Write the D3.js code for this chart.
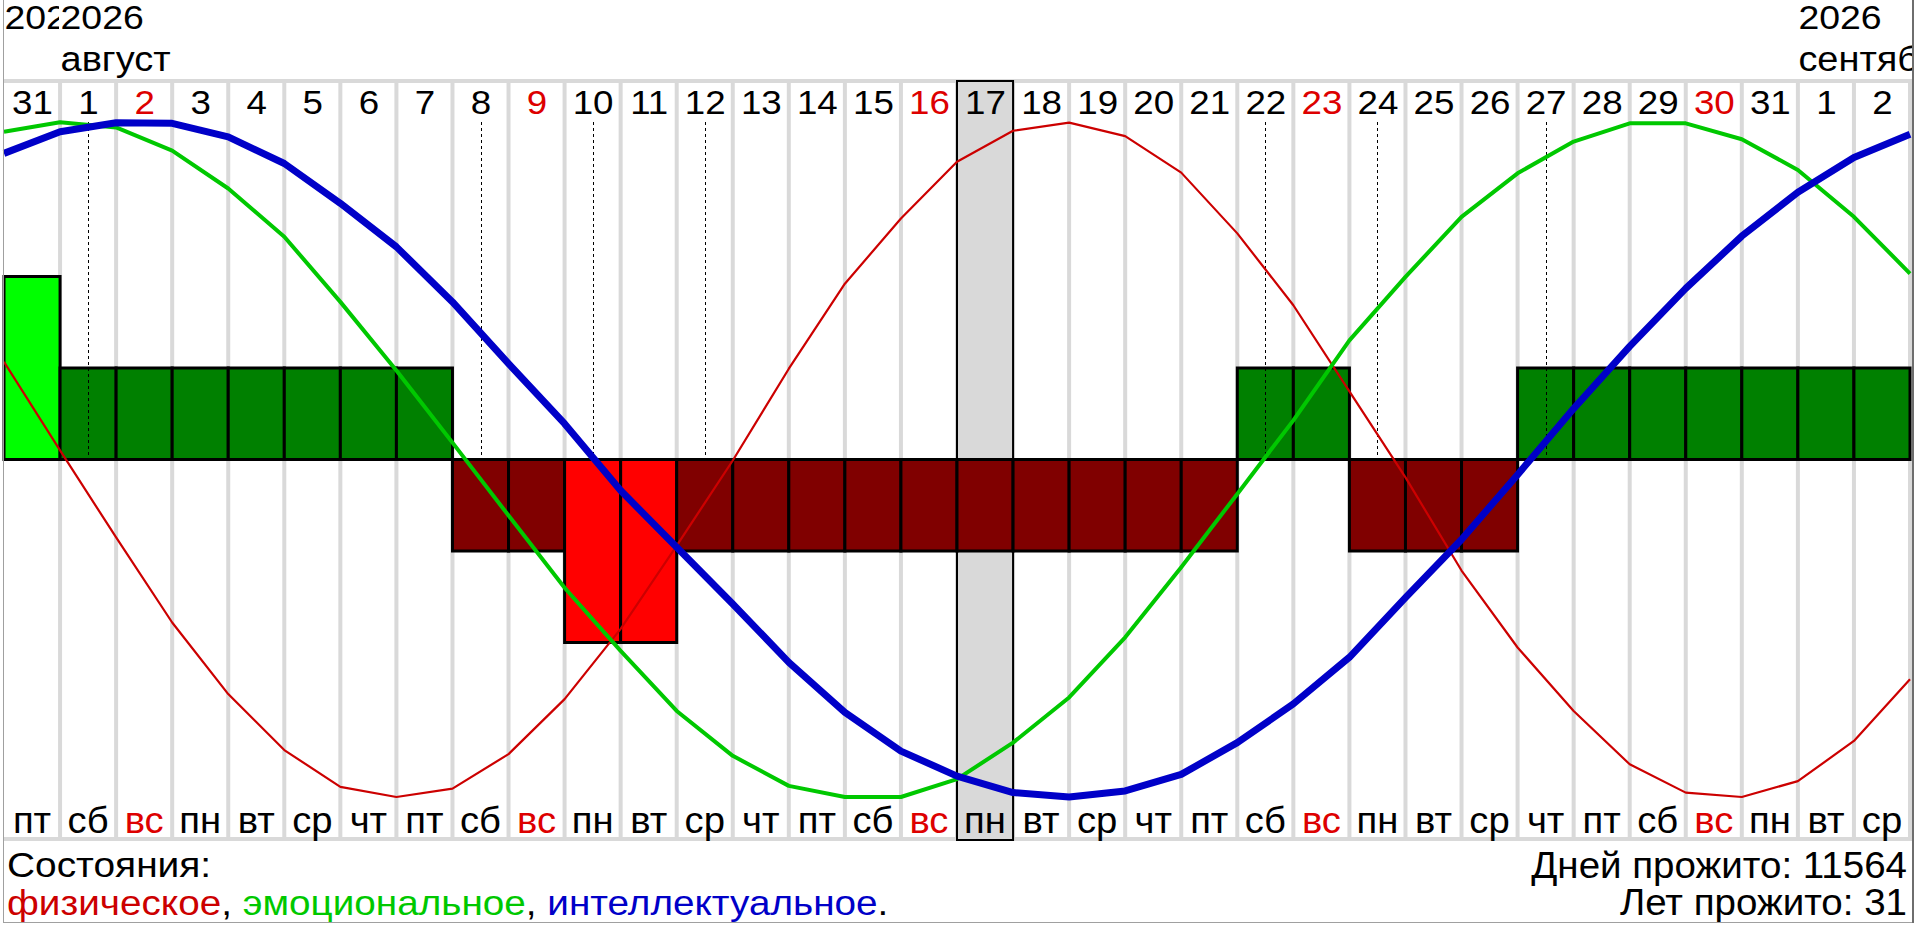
<!DOCTYPE html>
<html><head><meta charset="utf-8">
<script src="https://cdn.jsdelivr.net/npm/d3@7/dist/d3.min.js"></script>
<style>html,body{margin:0;padding:0;background:#fff;overflow:hidden}svg{display:block}</style>
</head><body><svg id="c" width="1920" height="926"></svg>
<script>
// ---- data ----
const days = [31,1,2,3,4,5,6,7,8,9,10,11,12,13,14,15,16,17,18,19,20,21,22,23,24,25,26,27,28,29,30,31,1,2];
const weekdays = ["пт","сб","вс","пн","вт","ср","чт","пт","сб","вс","пн","вт","ср","чт","пт","сб","вс","пн","вт","ср","чт","пт","сб","вс","пн","вт","ср","чт","пт","сб","вс","пн","вт","ср"];
// curve values (percent) at the day boundaries, 35 points
const physical = [28.9,2.7,-23.1,-48.3,-69.5,-86.1,-97.0,-100,-97.5,-87.3,-71.0,-50.2,-25.5,-0.3,26.9,52.1,71.4,88.2,97.4,99.8,95.8,85.0,67.0,45.7,20.2,-5.3,-32.9,-55.7,-74.5,-90.3,-98.7,-100,-95.3,-83.4,-65.1];
const emotional = [97.1,99.9,98.4,91.5,80.3,66.0,46.7,26.4,5.0,-16.6,-38.0,-56.7,-74.5,-87.8,-96.7,-100,-100,-94.7,-83.9,-70.5,-52.7,-31.9,-10.2,11.6,35.3,54.1,71.9,84.8,94.2,99.6,99.6,94.9,85.8,71.9,55.1];
const intellectual = [90.7,97.1,99.8,99.6,95.6,87.7,75.9,63.0,46.7,28.4,10.6,-9.2,-26.0,-42.8,-60.1,-74.9,-86.4,-93.8,-98.7,-100,-98.2,-93.3,-83.9,-72.4,-58.6,-40.9,-23.7,-4.5,15.1,33.5,50.7,66.2,79.2,89.5,96.4];
// daily state bars
const barLevels = [2,1,1,1,1,1,1,1,-1,-1,-2,-2,-1,-1,-1,-1,-1,-1,-1,-1,-1,-1,1,1,-1,-1,-1,1,1,1,1,1,1,1];
const criticalCols = [1,8,10,12,22,24,27];
const todayCol = 17;
const monthCols = [0,1,32];
const monthYears = ["2026","2026","2026"];
const monthNames = ["","август","сентябрь"];
const daysLived = 11564, yearsLived = 31;

// ---- layout ----
const svg = d3.select("#c");
const FONT = "'Liberation Sans', Arial, sans-serif";
const nCols = days.length;
const x = d3.scaleLinear().domain([0, nCols]).range([4, 1910]);
const y = d3.scaleLinear().domain([-100, 100]).range([797, 122]);
const yBar = d3.scaleLinear().domain([-2, 2]).range([642.5, 276.5]);
const TOP = 81, BOT = 839;
const GRID = "#d9d9d9";
const RED_TXT = "#dd0000";

function stext(g, px, py, str, fs, sx, anchor, color) {
  return g.append("text")
    .attr("transform", `translate(${px},${py}) scale(${sx},1)`)
    .attr("font-family", FONT).attr("font-size", fs)
    .attr("text-anchor", anchor).attr("fill", color).text(str);
}

svg.append("rect").attr("width",1920).attr("height",926).attr("fill","#fff");

// grid
const grid = svg.append("g");
grid.selectAll("line.v").data(d3.range(1, nCols + 1)).join("line")
  .attr("x1", d => x(d)).attr("x2", d => x(d))
  .attr("y1", TOP - 2).attr("y2", BOT + 2)
  .attr("stroke", GRID).attr("stroke-width", 4);
[TOP, BOT].forEach(yy => grid.append("line")
  .attr("x1", 4).attr("x2", 1912).attr("y1", yy).attr("y2", yy)
  .attr("stroke", GRID).attr("stroke-width", 4));

// today highlight
svg.append("rect")
  .attr("x", x(todayCol)).attr("width", x(todayCol + 1) - x(todayCol))
  .attr("y", TOP).attr("height", BOT + 1 - TOP)
  .attr("fill", GRID).attr("stroke", "#000").attr("stroke-width", 2);

// month / year labels
const defs = svg.append("defs");
monthCols.forEach((c, i) => {
  const x0 = x(c);
  const x1 = i < monthCols.length - 1 ? x(monthCols[i + 1]) - 1 : 1912;
  defs.append("clipPath").attr("id", "mclip" + i).append("rect")
    .attr("x", x0 - 2).attr("y", 0).attr("width", x1 - x0 + 2).attr("height", 80);
  const g = svg.append("g").attr("clip-path", `url(#mclip${i})`);
  stext(g, x0 + 0.5, 29, monthYears[i], 34, 1.1, "start", "#000");
  if (monthNames[i]) stext(g, x0 + 0.5, 70.5, monthNames[i], 34.5, 1.1, "start", "#000");
});

// day numbers and weekdays
const cx = i => (x(i) + x(i + 1)) / 2;
const lab = svg.append("g");
days.forEach((d, i) => {
  const col = weekdays[i] === "вс" ? RED_TXT : "#000";
  stext(lab, cx(i) + 0.5, 113.5, String(d), 34, 1.08, "middle", col);
  stext(lab, cx(i), 833, weekdays[i], 37.5, 1.02, "middle", col);
});

// bars
svg.append("g").selectAll("rect").data(barLevels).join("rect")
  .attr("x", (d, i) => x(i)).attr("width", (d, i) => x(i + 1) - x(i))
  .attr("y", d => Math.min(yBar(d), yBar(0)))
  .attr("height", d => Math.abs(yBar(d) - yBar(0)))
  .attr("fill", d => d === 2 ? "#00ff00" : d === 1 ? "#008000" : d === -1 ? "#800000" : "#ff0000")
  .attr("stroke", "#000").attr("stroke-width", 3);

// critical day dotted lines
svg.append("g").selectAll("line").data(criticalCols).join("line")
  .attr("x1", d => Math.round(cx(d)) + 0.5).attr("x2", d => Math.round(cx(d)) + 0.5)
  .attr("y1", 122).attr("y2", yBar(0))
  .attr("stroke", "#000").attr("stroke-width", 1).attr("stroke-dasharray", "3,3");

// curves
const line = d3.line().x((d, i) => x(i)).y(d => y(d));
[[physical, "#cc0000", 2.2], [emotional, "#00c800", 4], [intellectual, "#0000c8", 7]].forEach(([data, col, w]) => {
  svg.append("path").datum(data).attr("d", line)
    .attr("fill", "none").attr("stroke", col).attr("stroke-width", w)
    .attr("stroke-linejoin", "round");
});

// bottom texts
const bt = svg.append("g");
stext(bt, 7, 877, "Состояния:", 36, 1.08, "start", "#000");
const leg = bt.append("text").attr("transform", "translate(7,915) scale(1.075,1)")
  .attr("font-family", FONT).attr("font-size", 36);
leg.append("tspan").attr("fill", "#cc0000").text("физическое");
leg.append("tspan").attr("fill", "#000").text(", ");
leg.append("tspan").attr("fill", "#00c800").text("эмоциональное");
leg.append("tspan").attr("fill", "#000").text(", ");
leg.append("tspan").attr("fill", "#0000c8").text("интеллектуальное");
leg.append("tspan").attr("fill", "#000").text(".");
stext(bt, 1907, 878, "Дней прожито: " + daysLived, 36, 1.07, "end", "#000");
stext(bt, 1907, 915, "Лет прожито: " + yearsLived, 36, 1.07, "end", "#000");

// window frame
svg.append("line").attr("x1", 3.5).attr("x2", 3.5).attr("y1", 0).attr("y2", 923).attr("stroke", "#a0a0a0").attr("stroke-width", 1);
svg.append("line").attr("x1", 3).attr("x2", 1914).attr("y1", 922.5).attr("y2", 922.5).attr("stroke", "#a0a0a0").attr("stroke-width", 1);
svg.append("line").attr("x1", 1913).attr("x2", 1913).attr("y1", 0).attr("y2", 923).attr("stroke", "#6e6e6e").attr("stroke-width", 2);
</script></body></html>
